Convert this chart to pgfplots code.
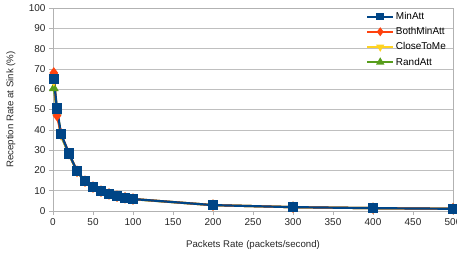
\documentclass[border=0pt]{standalone}
\usepackage{pgfplots}
\pgfplotsset{compat=1.18}
\usepackage{fontspec}
\setmainfont{Liberation Sans}
\definecolor{cMin}{HTML}{004586}
\definecolor{cBoth}{HTML}{FF420E}
\definecolor{cClose}{HTML}{FFD320}
\definecolor{cRand}{HTML}{579D1C}
\begin{document}
\begin{tikzpicture}[x=1bp,y=1bp]
\path[use as bounding box] (0,0) rectangle (457,259);
\begin{axis}[
  at={(53bp,48bp)}, anchor=south west,
  width=400bp, height=203bp, scale only axis,
  xmin=0, xmax=500, ymin=0, ymax=100,
  xtick={0,50,...,500}, ytick={0,10,...,100},
  ymajorgrids, major grid style={color=black!25, line width=0.6pt},
  axis line style={color=black!30, line width=0.6pt},
  tick style={color=black!30, line width=0.6pt},
  tick align=outside, major tick length=4bp,
  xtick pos=bottom, ytick pos=left,
  /pgf/number format/assume math mode=true,
  ticklabel style={font=\fontsize{10}{12}\selectfont, text=black!85},
  xlabel={Packets Rate (packets/second)},
  ylabel={Reception Rate at Sink (\%)},
  label style={font=\fontsize{9.7}{11}\selectfont, text=black!85},
  xlabel style={at={(axis description cs:0.5,0)}, anchor=north, yshift=-26bp},
  ylabel style={at={(axis description cs:0,0.5)}, anchor=south, yshift=34bp},
  legend style={at={(1,1)}, anchor=north east, draw=none, fill=none,
    font=\fontsize{10}{12}\selectfont, row sep=2.5bp, xshift=-3bp, yshift=0bp,
    inner sep=2bp},
  legend cell align=left,
  reverse legend,
  legend image code/.code={\draw[#1, line width=2pt] (0cm,0cm) -- (0.9cm,0cm);
     \draw[#1, only marks, mark size=2.7pt] plot coordinates {(0.45cm,0cm)};},
  every axis plot/.append style={line width=2.2pt},
]
\addplot[cRand, mark=triangle*, mark size=3.5pt] coordinates {
(1,60.5) (5,49) (10,37) (20,28) (30,19.4) (40,14.6) (50,11.7) (60,9.7) (70,8.3) (80,7.2) (90,6.4) (100,5.8) (200,2.9) (300,1.9) (400,1.4) (500,1.1)};
\addplot[cClose, mark=triangle*, mark options={rotate=180}, mark size=3.5pt] coordinates {
(1,64) (5,50) (10,37.5) (20,28.2) (30,19.5) (40,14.7) (50,11.8) (60,9.8) (70,8.4) (80,7.3) (90,6.5) (100,5.9) (200,2.9) (300,1.9) (400,1.4) (500,1.1)};
\addplot[cBoth, mark=diamond*, mark size=4pt] coordinates {
(1,68) (5,47) (10,38) (20,28.3) (30,19.6) (40,14.7) (50,11.8) (60,9.8) (70,8.4) (80,7.3) (90,6.5) (100,5.9) (200,2.9) (300,1.9) (400,1.4) (500,1.1)};
\addplot[cMin, mark=square*, mark size=4pt] coordinates {
(1,65) (5,50.5) (10,38) (20,28.3) (30,19.6) (40,14.7) (50,11.8) (60,9.8) (70,8.4) (80,7.3) (90,6.5) (100,5.9) (200,2.9) (300,1.9) (400,1.4) (500,1.1)};
\legend{RandAtt,CloseToMe,BothMinAtt,MinAtt}
\end{axis}
\end{tikzpicture}
\end{document}
